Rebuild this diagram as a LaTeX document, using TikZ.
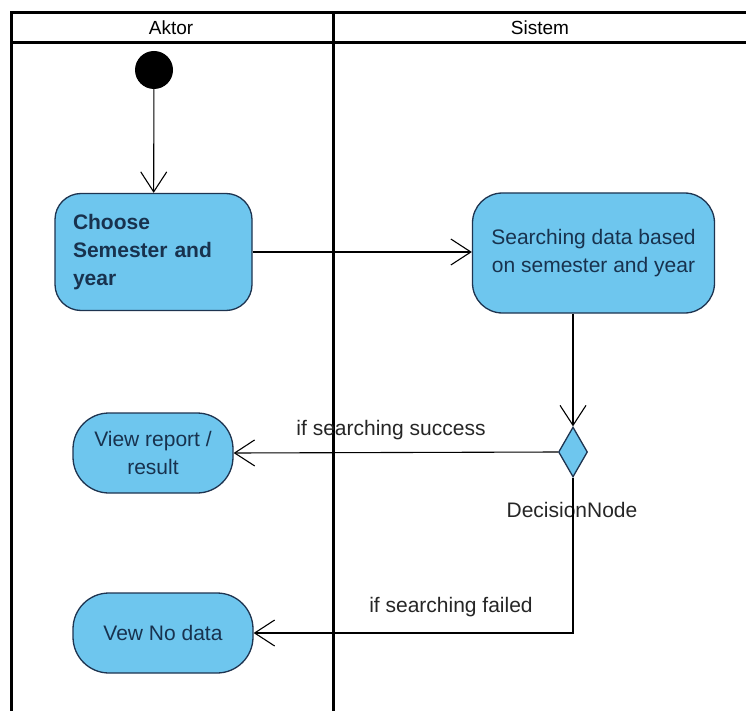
\documentclass[tikz,border=0pt]{standalone}
\usepackage{fontspec}
\setmainfont{Liberation Sans}
\usetikzlibrary{arrows.meta,shapes.geometric}
\definecolor{actfill}{RGB}{110,198,238}
\definecolor{actline}{RGB}{30,52,80}
\definecolor{acttext}{RGB}{24,50,78}
\tikzset{
  lane/.style={line width=3pt, black},
  action/.style={draw=actline, fill=actfill, line width=1.3pt, text=acttext,
    font=\fontsize{21}{28}\selectfont, align=center, inner sep=0pt},
  flow/.style={line width=1.1pt, black, -{Straight Barb[length=20pt,width=26pt]}},
  guard/.style={font=\fontsize{21}{28}\selectfont, text=black!85, inner sep=0pt},
}
\begin{document}
\begin{tikzpicture}[x=1pt,y=-1pt]
\useasboundingbox[fill=white] (0,0) rectangle (746,711);

% swimlane frame
\draw[lane] (10,13) -- (746,13);
\draw[lane] (10,43) -- (746,43);
\draw[lane] (11.5,11.5) -- (11.5,711);
\draw[lane] (333,11.5) -- (333,711);
\node[font=\fontsize{19}{22}\selectfont] (aktor) at (171,28) {Aktor};
\node[font=\fontsize{19}{22}\selectfont] (sistem) at (540,28) {Sistem};

% initial node
\node[circle, fill=black, minimum size=38pt, inner sep=0pt] (start) at (154,70) {};

% actions
\node[action, rounded corners=26pt, minimum width=197pt, minimum height=117pt,
      text width=161pt, align=left, font=\fontsize{21}{28}\selectfont\bfseries]
  (choose) at (153.5,252) {Choose\\Semester and\\year};
\node[action, rounded corners=30pt, minimum width=242pt, minimum height=120pt]
  (search) at (593.5,253) {Searching data based\\on semester and year};
\node[action, rounded corners=36pt, minimum width=160pt, minimum height=80pt]
  (report) at (153,453) {View report /\\result};
\node[action, rounded corners=36pt, minimum width=180pt, minimum height=80pt]
  (nodata) at (163,633) {Vew No data};

% decision
\node[diamond, draw=actline, fill=actfill, line width=1.3pt, inner sep=0pt,
      minimum width=29pt, minimum height=50pt] (dec) at (573,452) {};
\node[guard] (declabel) at (572,510) {DecisionNode};

% flows
\draw[flow] (start) -- (choose);
\draw[flow] (choose.east) -- (choose.east -| search.west);
\draw[flow] (search.south -| dec.north) -- (dec.north);
\draw[flow] (dec.west) -- (report.east);
\coordinate (bend) at (573,633);
\draw[flow] (dec.south) -- (bend) -- (nodata.east);

% guards
\node[guard] (succ) at (391,430) {if searching success};
\node[guard] (fail) at (451,607) {if searching failed};
\end{tikzpicture}
\end{document}
